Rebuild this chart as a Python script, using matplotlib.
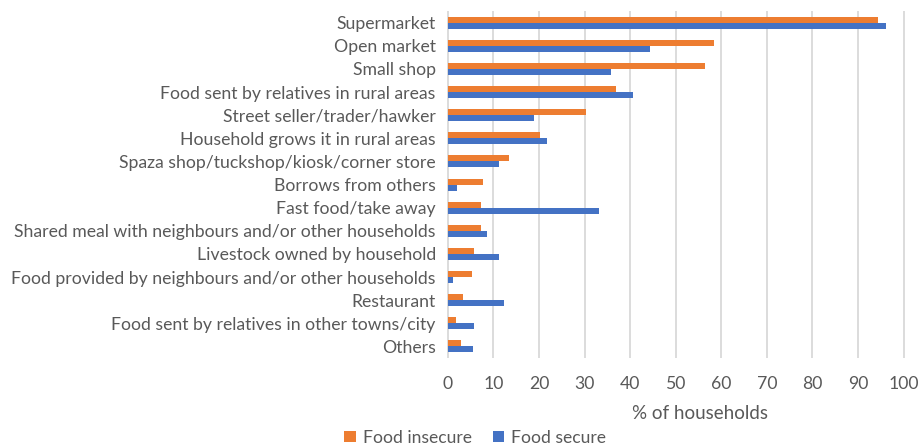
import numpy as np
import matplotlib.pyplot as plt

categories = ["Supermarket", "Open market", "Small shop",
              "Food sent by relatives in rural areas", "Street seller/trader/hawker",
              "Household grows it in rural areas", "Spaza shop/tuckshop/kiosk/corner store",
              "Borrows from others", "Fast food/take away",
              "Shared meal with neighbours and/or other households",
              "Livestock owned by household",
              "Food provided by neighbours and/or other households",
              "Restaurant", "Food sent by relatives in other towns/city", "Others"]
food_insecure = [94.4, 58.3, 56.5, 36.8, 30.3, 20.3, 13.4, 7.7, 7.3, 7.2, 5.8, 5.2, 3.4, 1.7, 2.8]
food_secure = [96.2, 44.4, 35.9, 40.7, 19.0, 21.7, 11.3, 1.9, 33.2, 8.5, 11.3, 1.1, 12.3, 5.7, 5.6]
xticks = list(range(0, 101, 10))

plt.rcParams['font.family'] = ['Lato', 'DejaVu Sans']
txt = '#595959'

fig = plt.figure(figsize=(9.21, 4.44), dpi=100)
ax = fig.add_axes([0.4853, 0.1937, 0.4973, 0.7813])

y = np.arange(len(categories))
h = 0.26
ax.barh(y - h / 2, food_insecure, height=h, color='#ED7D31', label='Food insecure', zorder=3)
ax.barh(y + h / 2, food_secure, height=h, color='#4472C4', label='Food secure', zorder=3)

ax.set_ylim(len(categories) - 0.5, -0.5)
ax.set_xlim(-0.2, 100.3)
ax.set_xticks(xticks)
ax.set_yticks(y)
ax.set_yticklabels(categories)
ax.tick_params(axis='both', length=0, labelsize=12.7, colors=txt)
ax.tick_params(axis='x', pad=13)
ax.tick_params(axis='y', pad=8)
ax.grid(axis='x', color='#d9d9d9', linewidth=1.3, zorder=0)
for s in ax.spines.values():
    s.set_visible(False)
ax.set_xlabel('% of households', fontsize=13.5, color=txt)
ax.xaxis.set_label_coords(0.552, -0.135)

fig.legend(loc='center', bbox_to_anchor=(0.516, 0.014), ncol=2, frameon=False,
           fontsize=12.6, labelcolor=txt, handlelength=0.65, handleheight=0.65,
           handletextpad=0.4, columnspacing=1.2)

fig.savefig('out.png', dpi=100)
